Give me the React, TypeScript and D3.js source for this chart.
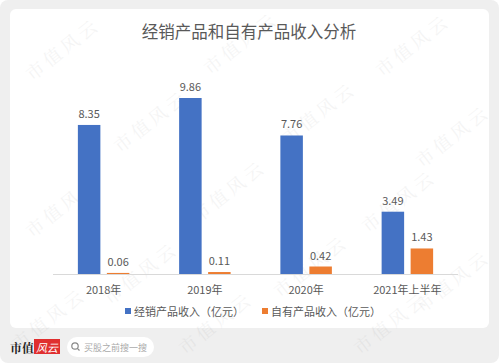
import React from 'react';
import * as d3 from 'd3';

// chart values (亿元)
const categories = ['2018年', '2019年', '2020年', '2021年上半年'];
const distribution = [8.35, 9.86, 7.76, 3.49];
const ownBrand = [0.06, 0.11, 0.42, 1.43];
const seriesNames = ['经销产品收入（亿元）', '自有产品收入（亿元）'];
const seriesColors = ['#4472C4', '#ED7D31'];
const title = '经销产品和自有产品收入分析';

const W = 499;
const H = 363;
const font = '"Noto Sans CJK SC", "Noto Sans", sans-serif';

// faint diagonal watermark positions
const watermarks: [number, number][] = [
  [62, 48], [240, 42], [412, 44],
  [150, 120], [318, 112], [452, 135],
  [62, 205], [228, 190], [398, 200],
  [140, 272], [310, 265], [452, 280],
  [48, 318], [215, 322], [390, 322],
];

export default function App() {
  const baseY = 274;
  const x = d3.scaleBand<string>().domain(categories).range([53, 458]).paddingInner(0).paddingOuter(0);
  const y = d3.scaleLinear().domain([0, 10]).range([baseY, baseY - 178.5]);
  const barW = 22.5;
  const gap = 6.5;

  const series = [distribution, ownBrand];

  return (
    <svg width={W} height={H} style={{ position: 'absolute', left: 0, top: 0, display: 'block' }}>
      <rect x={0} y={0} width={W} height={H} rx={8} fill="#efefef" />
      <rect x={10} y={9} width={479} height={319} rx={6} fill="#ffffff" />

      {watermarks.map(([wx, wy], i) => (
        <text
          key={'wm' + i}
          x={wx}
          y={wy}
          transform={`rotate(-38 ${wx} ${wy})`}
          textAnchor="middle"
          dominantBaseline="central"
          fontFamily='"Noto Serif CJK SC", "Noto Sans CJK SC", serif'
          fontSize={18}
          fill="#000"
          opacity={0.04}
          letterSpacing={4}
        >
          市值风云
        </text>
      ))}

      <text x={249} y={31} textAnchor="middle" dominantBaseline="central" fontFamily={font} fontSize={16.5} fill="#595959">
        {title}
      </text>

      {series.map((vals, si) =>
        vals.map((v, i) => {
          const cx = x(categories[i])! + x.bandwidth() / 2;
          const bx = si === 0 ? cx - gap / 2 - barW : cx + gap / 2;
          return (
            <g key={`b${si}-${i}`}>
              <rect x={bx} y={y(v)} width={barW} height={baseY - y(v)} fill={seriesColors[si]} />
              <text
                x={bx + barW / 2}
                y={y(v) - 12}
                textAnchor="middle"
                dominantBaseline="central"
                fontFamily={font}
                fontSize={11}
                fill="#595959"
              >
                {v.toFixed(2)}
              </text>
            </g>
          );
        })
      )}

      <line x1={53} x2={458} y1={baseY + 0.5} y2={baseY + 0.5} stroke="#d9d9d9" strokeWidth={1.2} />

      {categories.map((c) => (
        <text
          key={c}
          x={x(c)! + x.bandwidth() / 2}
          y={289}
          textAnchor="middle"
          dominantBaseline="central"
          fontFamily={font}
          fontSize={11}
          fill="#595959"
        >
          {c}
        </text>
      ))}

      {seriesNames.map((n, i) => {
        const lx = i === 0 ? 125 : 262;
        return (
          <g key={n}>
            <rect x={lx} y={308} width={6} height={6} fill={seriesColors[i]} />
            <text x={lx + 9} y={311} dominantBaseline="central" fontFamily={font} fontSize={11} fill="#595959">
              {n}
            </text>
          </g>
        );
      })}

      {/* bottom brand strip */}
      <text x={10} y={347} dominantBaseline="central" fontFamily='"Noto Serif CJK SC", "DejaVu Serif", serif' fontWeight="bold" fontSize={12} fill="#222">
        市值
      </text>
      <rect x={34} y={339} width={26} height={15} fill="#e02f2f" />
      <text x={47} y={346.5} textAnchor="middle" dominantBaseline="central" fontFamily={font} fontStyle="italic" fontSize={11} fill="#fff">
        风云
      </text>
      <rect x={67} y={337} width={87} height={20} rx={10} fill="#ffffff" />
      <circle cx={75} cy={346} r={3.2} fill="none" stroke="#888" strokeWidth={1.2} />
      <line x1={77.3} y1={348.3} x2={79.5} y2={350.5} stroke="#888" strokeWidth={1.2} />
      <text x={84} y={347} dominantBaseline="central" fontFamily={font} fontSize={9} fill="#aaa">
        买股之前搜一搜
      </text>
    </svg>
  );
}
